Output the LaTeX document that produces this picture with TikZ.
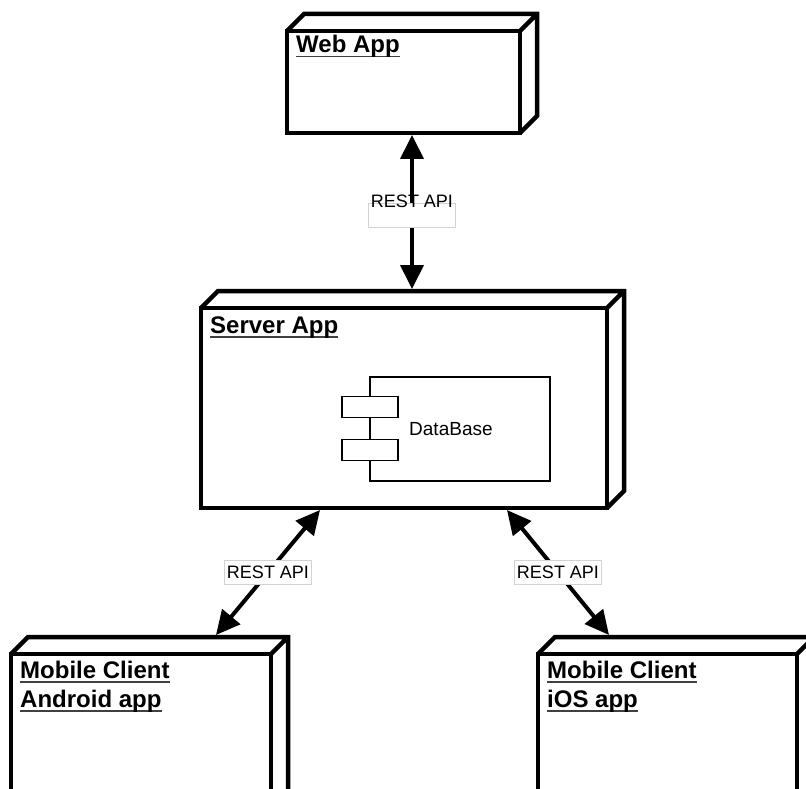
\documentclass[tikz,border=0pt]{standalone}
\usepackage{fontspec}
\setmainfont{Liberation Sans}
\usetikzlibrary{arrows.meta}

% underline for node titles
\newcommand\titlerule[1]{\setbox0\hbox{#1}\rlap{\textcolor{black!75}{\rule[-4.5pt]{\wd0}{1.7pt}}}\box0}

\tikzset{
  devnode/.style={draw, line width=4.5pt, rectangle, anchor=north west, inner sep=0pt, outer sep=0pt, fill=white},
  devedge/.style={line width=4.5pt},
  devtitle/.style={anchor=base west, inner sep=0pt, align=left, font=\fontsize{24}{29}\selectfont\bfseries},
  link/.style={line width=4pt, {Triangle[length=24pt,width=23pt]}-{Triangle[length=24pt,width=23pt]}},
  restbox/.style={fill=white, draw=gray!35, line width=0.6pt, minimum width=87pt, minimum height=24pt, inner sep=1pt, font=\fontsize{18}{18}\selectfont},
  part/.style={draw, line width=1.3pt, rectangle, inner sep=0pt, outer sep=0pt, fill=white},
}

\begin{document}
\begin{tikzpicture}[x=1pt,y=-1pt]
  \useasboundingbox (0,0) rectangle (806,789);

  % deployment nodes (front faces)
  \node[devnode, minimum width=233pt, minimum height=102pt] (web) at (287,31) {};
  \node[devnode, minimum width=406pt, minimum height=200pt] (server) at (201,308) {};
  \node[devnode, minimum width=260pt, minimum height=200pt] (android) at (11,654) {};
  \node[devnode, minimum width=259pt, minimum height=200pt] (ios) at (538,654) {};

  % top and side faces
  \foreach \n in {web,server,android,ios}
    \draw[devedge] (\n.north west) -- ++(17,-17) -- ([shift={(17,-17)}]\n.north east)
      -- ([shift={(17,-17)}]\n.south east) -- (\n.south east)
      (\n.north east) -- ++(17,-17);

  % titles (base anchor sits on the last line)
  \node[devtitle] (webtitle) at ([shift={(9,22)}]web.north west) {\titlerule{Web App}};
  \node[devtitle] (servertitle) at ([shift={(9,25)}]server.north west) {\titlerule{Server App}};
  \node[devtitle] (androidtitle) at ([shift={(9,53)}]android.north west) {\titlerule{Mobile Client}\\\titlerule{Android app}};
  \node[devtitle] (iostitle) at ([shift={(9,53)}]ios.north west) {\titlerule{Mobile Client}\\\titlerule{iOS app}};

  % database component
  \node[part, anchor=north west, minimum width=180pt, minimum height=104pt] (db) at (370,377) {};
  \node[part, minimum width=56pt, minimum height=21pt] (dbtop) at ([shift={(0,30)}]db.north west) {};
  \node[part, minimum width=56pt, minimum height=21pt] (dbbottom) at ([shift={(0,-31)}]db.south west) {};
  \node[anchor=west, inner sep=0pt, font=\fontsize{19}{19}\selectfont] (dbname) at ([shift={(39,0)}]db.west) {DataBase};

  % REST links
  \draw[link] ([shift={(125,2)}]web.south west) -- node[restbox, yshift=-3pt] (webrest) {} ([shift={(211,-19)}]server.north west);
  \node[inner sep=0pt, font=\fontsize{18}{18}\selectfont] (webresttext) at ([yshift=14pt]webrest.center) {REST API};
  \draw[link] ([shift={(119,2)}]server.south west) -- node[restbox] (androidrest) {REST API} ([shift={(205,-19)}]android.north west);
  \draw[link] ([shift={(306,2)}]server.south west) -- node[restbox] (iosrest) {REST API} ([shift={(71,-19)}]ios.north west);
\end{tikzpicture}
\end{document}
